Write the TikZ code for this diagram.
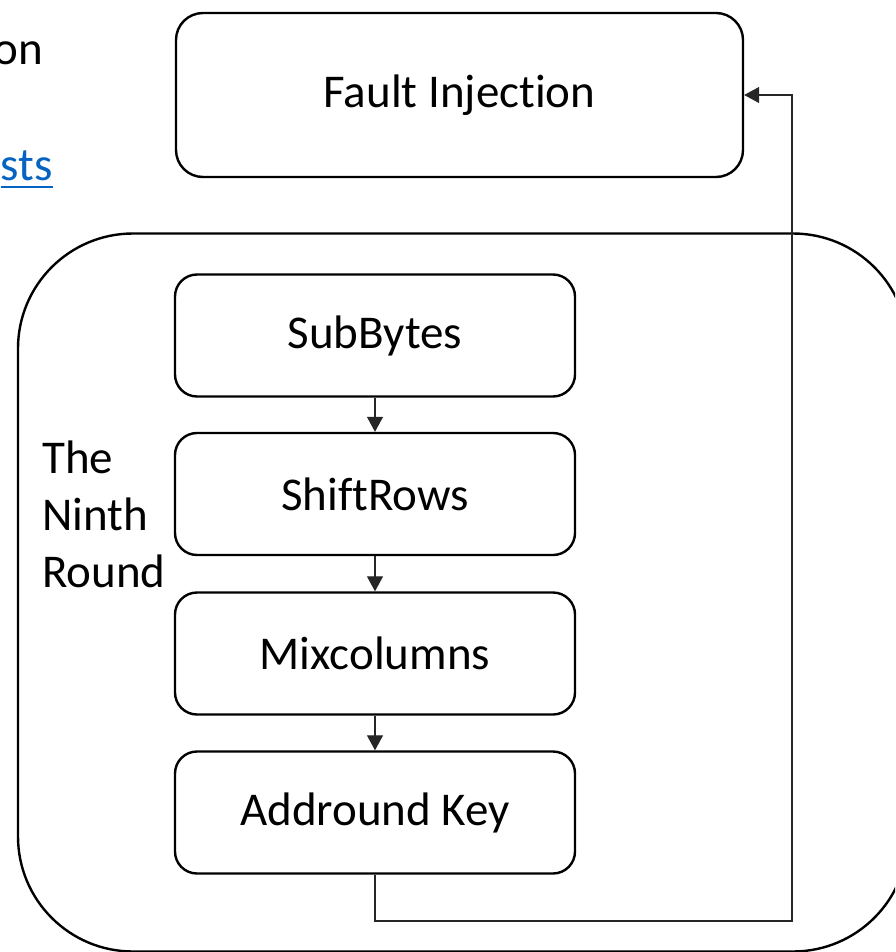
\documentclass[tikz,border=0pt]{standalone}
\usepackage{fontspec}
\setmainfont{Carlito}[Ligatures=NoCommon]
\usetikzlibrary{arrows.meta}
\definecolor{linkblue}{HTML}{0563C1}
\begin{document}
\begin{tikzpicture}[x=1pt,y=-1pt,
  box/.style={draw, line width=2.4pt, rounded corners=22pt, minimum width=400pt, minimum height=122pt, inner sep=0pt, font=\fontsize{47}{57}\selectfont},
  lbl/.style={inner sep=0pt, font=\fontsize{47}{57}\selectfont},
  conn/.style={draw=black!85, line width=1.2pt, -{Triangle[width=16pt,length=15pt]}},
]
\useasboundingbox (0,0) rectangle (895,952);
\clip (0,0) rectangle (895,952);
\node[draw, line width=2.4pt, rounded corners=115pt, minimum width=890pt, minimum height=718pt, inner sep=0pt] (ninth) at (463,592.5) {};
\node[box] (sub) at (375,335.5) {SubBytes};
\node[box] (shift) at (375,494) {ShiftRows};
\node[box] (mix) at (375,653.5) {Mixcolumns};
\node[box] (add) at (375,812.5) {Addround Key};
\node[box, rounded corners=27pt, minimum width=567pt, minimum height=164pt] (fault) at (459.5,95) {Fault Injection};
\node[lbl, align=left, anchor=north west] (ninthlbl) at (42,441) {The\\Ninth\\Round};
\node[lbl, anchor=base east] (on) at (43,65) {on};
\node[lbl, anchor=base east, text=linkblue] (sts) at (53,180) {sts};
\draw[linkblue, line width=2.5pt] ([yshift=-7pt]sts.base west) -- ([yshift=-7pt]sts.base east);
\draw[conn] (sub.south) -- (shift.north);
\draw[conn] (shift.south) -- (mix.north);
\draw[conn] (mix.south) -- (add.north);
\coordinate (turn) at (792,921);
\draw[conn] (add.south) |- (turn) |- (fault.east);
\end{tikzpicture}
\end{document}
